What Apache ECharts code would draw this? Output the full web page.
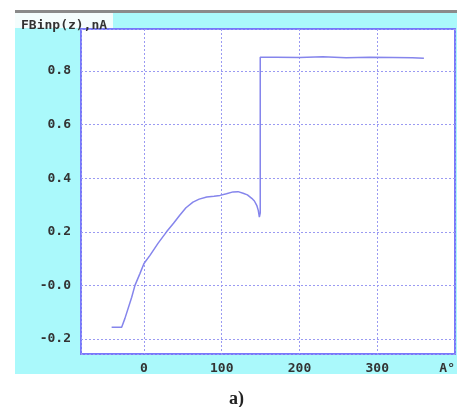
<!DOCTYPE html>
<html>
<head>
<meta charset="utf-8">
<script src="https://cdn.jsdelivr.net/npm/echarts@6/dist/echarts.min.js"></script>
<style>
  html, body { margin: 0; padding: 0; background: #fff; }
  #wrap { position: relative; width: 457px; height: 407px; }
  #bg { position: absolute; left: 15px; top: 12px; width: 442px; height: 362px; background: #aaf9fb; }
  #bar { position: absolute; left: 15px; top: 10px; width: 442px; height: 3px; background: #8a8a8a; }
  #titlebox { position: absolute; left: 15px; top: 13px; width: 98px; height: 15px; background: #f4fdfd; }
  #chart { position: absolute; left: 0; top: 0; width: 457px; height: 407px; }
</style>
</head>
<body>
<div id="wrap">
  <div id="bg"></div>
  <div id="bar"></div>
  <div id="titlebox"></div>
  <div id="chart"></div>
</div>
<script>
const angles = [-41.6, -28.7, -24.5, -15.8, -11.6, -5.1, 0, 7.7, 18, 29, 38, 46, 54, 63, 71, 80.7, 90, 97.8, 106, 114.6, 121, 127.5, 133, 138.6, 142, 145, 147, 148.4, 149.5, 149.5, 170, 200, 230, 260, 290, 320, 345, 360]
const current = [-0.156, -0.156, -0.123, -0.044, 0.0, 0.045, 0.082, 0.112, 0.157, 0.2, 0.232, 0.262, 0.29, 0.311, 0.322, 0.33, 0.333, 0.336, 0.342, 0.349, 0.35, 0.344, 0.338, 0.325, 0.315, 0.299, 0.28, 0.255, 0.27, 0.852, 0.852, 0.851, 0.853, 0.85, 0.852, 0.851, 0.85, 0.848]

const xMin = -81
const xMax = 400
const yMin = -0.256
const yMax = 0.957

const monoFont = 'DejaVu Sans Mono'
const gridColor = '#9a9af2'

const chart = echarts.init(document.getElementById('chart'))
chart.setOption({
  animation: false,
  backgroundColor: 'transparent',
  title: [
    {
      text: 'FBinp(z),nA',
      left: 16,
      top: 14,
      textStyle: { fontFamily: monoFont, fontWeight: 'bold', fontSize: 13, color: '#333' }
    },
    {
      text: 'a)',
      left: 224,
      top: 385,
      textStyle: { fontFamily: 'Liberation Serif', fontWeight: 'bold', fontSize: 18, color: '#222' }
    }
  ],
  grid: {
    left: 81,
    top: 29,
    right: 2,
    bottom: 53,
    outerBoundsMode: 'none',
    containLabel: false,
    show: true,
    backgroundColor: '#fff',
    borderColor: '#7878fa',
    borderWidth: 2
  },
  xAxis: {
    type: 'value',
    min: xMin,
    max: xMax,
    minInterval: 100,
    maxInterval: 100,
    axisLine: { show: false },
    axisTick: { show: false },
    splitLine: { lineStyle: { color: gridColor, type: [2, 2], width: 1 } },
    axisLabel: {
      margin: 8,
      fontFamily: monoFont,
      fontWeight: 'bold',
      fontSize: 13,
      color: '#333',
      showMinLabel: false,
      alignMaxLabel: 'right',
      formatter: function (v) {
        if (v === xMax) return 'A°'
        if (v % 100 !== 0) return ''
        return String(v)
      }
    }
  },
  yAxis: {
    type: 'value',
    min: yMin,
    max: yMax,
    minInterval: 0.2,
    maxInterval: 0.2,
    axisLine: { show: false },
    axisTick: { show: false },
    splitLine: { lineStyle: { color: gridColor, type: [2, 2], width: 1 } },
    axisLabel: {
      margin: 10,
      fontFamily: monoFont,
      fontWeight: 'bold',
      fontSize: 13,
      color: '#333',
      showMinLabel: false,
      showMaxLabel: false,
      formatter: function (v) {
        if (Math.abs(v / 0.2 - Math.round(v / 0.2)) > 1e-6) return ''
        if (Math.abs(v) < 1e-9) return '-0.0'
        return v.toFixed(1)
      }
    }
  },
  series: [
    {
      type: 'line',
      data: angles.map((a, i) => [a, current[i]]),
      showSymbol: false,
      lineStyle: { color: '#8585ec', width: 1.5 }
    }
  ]
})
</script>
</body>
</html>
